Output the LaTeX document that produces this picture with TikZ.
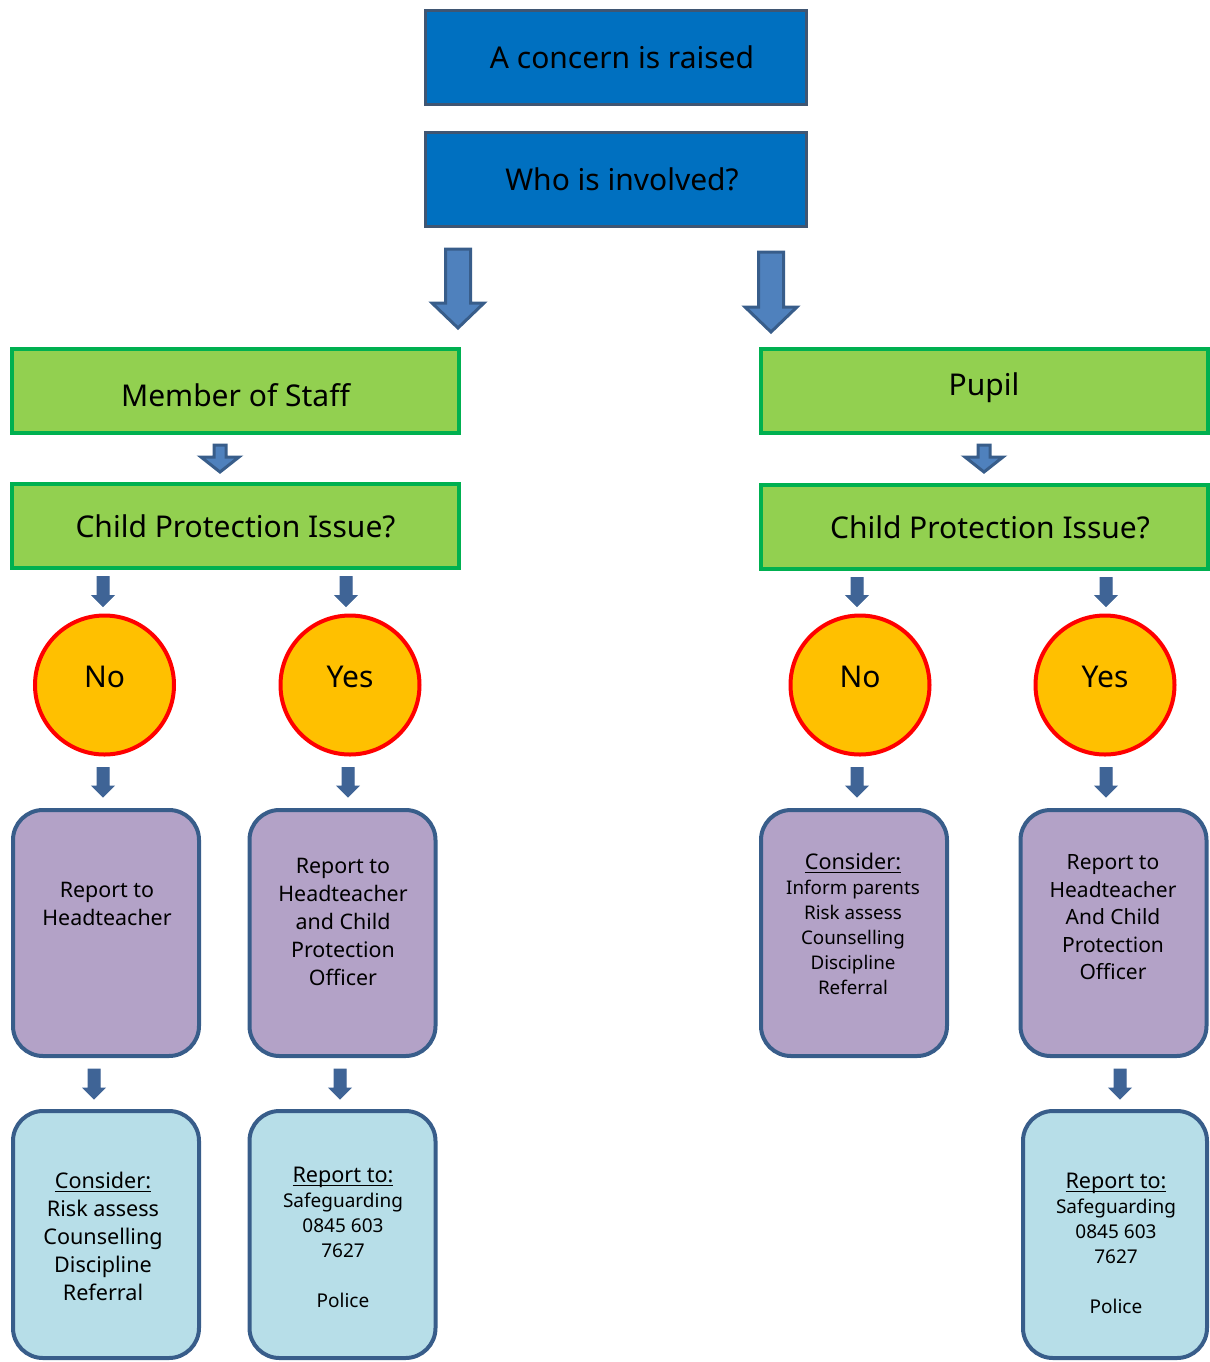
\documentclass[tikz,border=0pt]{standalone}
\usepackage{fontspec}
\setmainfont{Noto Sans}
\usepackage{tikz}
\usetikzlibrary{calc}

\definecolor{topblue}{HTML}{0070C0}
\definecolor{topedge}{HTML}{3F5673}
\definecolor{leafgreen}{HTML}{92D050}
\definecolor{leafedge}{HTML}{00B050}
\definecolor{ambercirc}{HTML}{FFC000}
\definecolor{lilac}{HTML}{B3A2C7}
\definecolor{paleblue}{HTML}{B7DEE8}
\definecolor{slateedge}{HTML}{385D8A}
\definecolor{arrowfill}{HTML}{4F81BD}
\definecolor{arrowdark}{HTML}{3F6496}

% block arrow: [style]{start}{tip}{half shaft}{half head}{head length}
\newcommand{\blockarrow}[6][fatarrow]{%
  \path[#1] let \p1=#2, \p2=#3 in
    (\x1-#4,\y1) -- (\x1+#4,\y1) -- (\x1+#4,\y2+#6) -- (\x1+#5,\y2+#6)
    -- (\x1,\y2) -- (\x1-#5,\y2+#6) -- (\x1-#4,\y2+#6) -- cycle;}
% underlined heading whose rule sits close under the baseline
\newcommand{\headline}[1]{\underline{\raisebox{0pt}[\height][0pt]{#1}}}

\begin{document}
\begin{tikzpicture}[
  x=0.5pt, y=-0.5pt,
  topbox/.style={
    rectangle,draw=topedge,line width=1.5pt,fill=topblue,
    minimum width=190.5pt,minimum height=47pt,
    font=\fontsize{15}{18}\selectfont
  },
  groupbox/.style={
    rectangle,draw=leafedge,line width=2pt,fill=leafgreen,
    minimum width=223.5pt,minimum height=42pt,
    font=\fontsize{15}{18}\selectfont
  },
  answer/.style={
    circle,draw=red,line width=2pt,fill=ambercirc,
    minimum size=69.5pt,text depth=8pt,
    font=\fontsize{15}{18}\selectfont
  },
  actionbox/.style={
    rectangle,rounded corners=15pt,draw=slateedge,line width=2pt,fill=lilac,
    minimum width=93pt,minimum height=123pt
  },
  outcomebox/.style={actionbox,fill=paleblue,minimum height=123.5pt},
  bodytext/.style={align=center,font=\fontsize{10.7}{14}\selectfont},
  smalltext/.style={align=center,font=\fontsize{9.5}{12.5}\selectfont},
  fatarrow/.style={draw=slateedge,line width=1.5pt,fill=arrowfill},
  thinarrow/.style={draw=arrowdark,line width=0.5pt,fill=arrowdark}
]
\useasboundingbox (0,0) rectangle (1210,1362);

% question boxes
\node[topbox] (concern) at (616,57.5) {\hspace{6pt}A concern is raised};
\node[topbox] (who) at (616,179.5) {\hspace{6pt}Who is involved?};

% the two groups
\node[groupbox, text height=16pt] (staff) at (235.5,391) {Member of Staff};
\node[groupbox, text depth=7pt] (pupil) at (984,391) {Pupil};
\node[groupbox] (cpstaff) at (235.5,526) {Child Protection Issue?\hspace{10pt}};
\node[groupbox] (cppupil) at (984,527) {\hspace{6pt}Child Protection Issue?};

% answers
\node[answer] (staffno) at (104.5,685) {No};
\node[answer] (staffyes) at (350,685) {Yes};
\node[answer] (pupilno) at (860,685) {No};
\node[answer] (pupilyes) at (1105,685) {Yes};

% actions
\node[actionbox] (staffhead) at (106,933) {};
\node[actionbox] (staffcpo) at (342.5,933) {};
\node[actionbox] (pupilconsider) at (854,933) {};
\node[actionbox] (pupilcpo) at (1113.5,933) {};
\node[bodytext] (staffheadtext) at (107,904) {Report to\\Headteacher};
\node[bodytext] (staffcpotext) at (343,921.5)
  {Report to\\Headteacher\\and Child\\Protection\\Officer};
\node[smalltext, font=\fontsize{9.4}{12.5}\selectfont] (pupilconsidertext) at (853,924)
  {{\fontsize{10.8}{12.5}\selectfont\headline{Consider:}}\\Inform parents\\Risk assess\\Counselling\\Discipline\\Referral};
\node[bodytext, font=\fontsize{10.5}{13.75}\selectfont] (pupilcpotext) at (1113,917.5)
  {Report to\\Headteacher\\And Child\\Protection\\Officer};

% outcomes
\node[outcomebox] (staffoptions) at (106,1234.5) {};
\node[outcomebox] (staffreport) at (342.5,1234.5) {};
\node[outcomebox, minimum width=92pt] (pupilreport) at (1115,1234.5) {};
\node[bodytext, font=\fontsize{10.8}{14}\selectfont] (staffoptionstext) at (103,1236)
  {\headline{Consider:}\\Risk assess\\Counselling\\Discipline\\Referral};
\node[smalltext] (staffreporttext) at (343,1237.5)
  {{\fontsize{10.8}{12.5}\selectfont\headline{Report to:}}\\Safeguarding\\0845 603\\7627\\[12.5pt]Police};
\node[smalltext] (pupilreporttext) at (1116,1243)
  {{\fontsize{10.8}{12.5}\selectfont\headline{Report to:}}\\Safeguarding\\0845 603\\7627\\[12.5pt]Police};

% arrows
\blockarrow{($(who.south)+(-158,21)$)}{($(staff.north)+(0,-19)$)}{6.25pt}{13pt}{12.5pt}
\blockarrow{($(who.south)+(155,24)$)}{($(pupil.north)+(0,-15)$)}{6.25pt}{13pt}{12.5pt}
\blockarrow{($(staff.south)+(-15.5,10)$)}{($(cpstaff.north)+(0,-10)$)}{3pt}{9.5pt}{7.5pt}
\blockarrow{($(pupil.south)+(0,10)$)}{($(cppupil.north)+(0,-11)$)}{3pt}{9.5pt}{7.5pt}

\foreach \from/\dx/\to in {cpstaff/-132.5/staffno, cpstaff/110.5/staffyes,
                           cppupil/-127/pupilno, cppupil/122/pupilyes}
  \blockarrow[thinarrow]{($(\from.south)+(\dx,6.5)$)}{($(\to.north)+(0,-7)$)}{3pt}{5.5pt}{5.5pt};

\foreach \from/\dx/\to in {staffno/-1.5/staffhead, staffyes/-2/staffcpo,
                           pupilno/-3/pupilconsider, pupilyes/1/pupilcpo}
  \blockarrow[thinarrow]{($(\from.south)+(\dx,11)$)}{($(\to.north)+(0,-11)$)}{3pt}{5.5pt}{5.5pt};

\foreach \from/\dx/\to in {staffhead/-12/staffoptions, staffcpo/-2.5/staffreport,
                           pupilcpo/6.5/pupilreport}
  \blockarrow[thinarrow]{($(\from.south)+(\dx,11)$)}{($(\to.north)+(0,-10)$)}{3pt}{5.5pt}{5.5pt};

\end{tikzpicture}
\end{document}
